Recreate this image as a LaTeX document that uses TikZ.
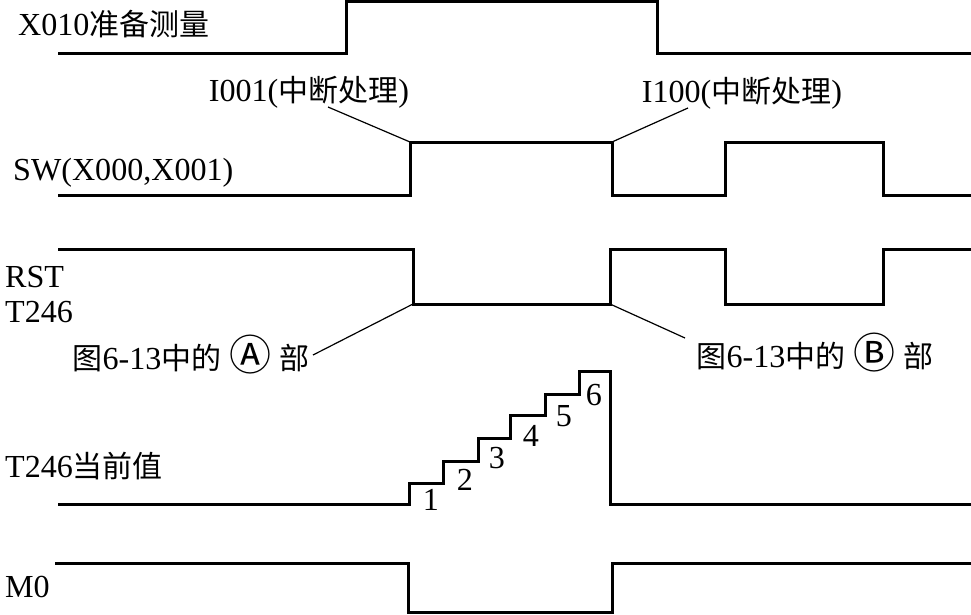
\documentclass[tikz,border=0pt]{standalone}
\usepackage{fontspec}
\setmainfont{Liberation Serif}[Scale=1.07]
\newfontfamily\cjk{Noto Sans CJK SC}
\newcommand{\zh}[1]{{\cjk #1}}
\newcommand{\partmark}[1]{{\cjk\fontsize{42}{42}\selectfont\raisebox{-1pt}{#1}}}

\begin{document}
\begin{tikzpicture}[x=1pt,y=-1pt,
		wave/.style={line width=3pt,line join=miter},
		lead/.style={line width=1.2pt},
		lbl/.style={inner sep=0pt,font=\fontsize{30}{35}\selectfont},
		num/.style={inner sep=0pt,font=\fontsize{30}{35}\selectfont}]
	\useasboundingbox (0,0) rectangle (971,615);
	% signal names
	\node[lbl,anchor=west] (x010) at (18,24) {X010\zh{准备测量}};
	\node[lbl,anchor=west] (sw) at (13,173) {SW(X000,X001)};
	\node[lbl,anchor=west,align=left] (rst) at (5,295) {RST\\T246};
	\node[lbl,anchor=west] (t246) at (5,466) {T246\zh{当前值}};
	\node[lbl,anchor=west] (m0) at (5,587) {M0};
	% notes
	\node[lbl] (i001) at (309,92) {I001(\zh{中断处理})};
	\node[lbl] (i100) at (742,93) {I100(\zh{中断处理})};
	\node[lbl] (parta) at (191,355) {\zh{图}6-13\zh{中的} \partmark{Ⓐ} \zh{部}};
	\node[lbl] (partb) at (815,353) {\zh{图}6-13\zh{中的} \partmark{Ⓑ} \zh{部}};
	% waveforms
	\draw[wave] (58,54) -- (346,54) -- (346,2) -- (657,2) -- (657,54) -- (971,54);
	\draw[wave] (58,195) -- (410,195) -- (410,142) coordinate (swon) -- (612,142) coordinate (swoff)
		-- (612,195) -- (725,195) -- (725,142) -- (883,142) -- (883,195) -- (971,195);
	\draw[wave] (58,249) -- (413,249) -- (413,304) coordinate (rston) -- (610,304) coordinate (rstoff)
		-- (610,249) -- (725,249) -- (725,304) -- (883,304) -- (883,249) -- (971,249);
	\draw[wave] (58,504) -- (409,504) -- (409,483) -- (443,483) -- (443,461) -- (478,461)
		-- (478,438) -- (510,438) -- (510,415) -- (545,415) -- (545,394) -- (579,394)
		-- (579,371) -- (610,371) -- (610,504) -- (971,504);
	\draw[wave] (55,563) -- (408,563) -- (408,612) -- (612,612) -- (612,563) -- (971,563);
	% step counts
	\foreach \n/\px/\py in {1/431/500,2/465/480,3/497/458,4/531/436,5/564/416,6/594/395}
		\node[num] (c\n) at (\px,\py) {\n};
	% leaders
	\coordinate (i001end) at (328,107);
	\coordinate (i100end) at (688,108);
	\coordinate (partaend) at (313,355);
	\coordinate (partbend) at (685,338);
	\draw[lead] (i001end) -- (swon);
	\draw[lead] (i100end) -- (swoff);
	\draw[lead] (partaend) -- (rston);
	\draw[lead] (partbend) -- (rstoff);
\end{tikzpicture}
\end{document}
